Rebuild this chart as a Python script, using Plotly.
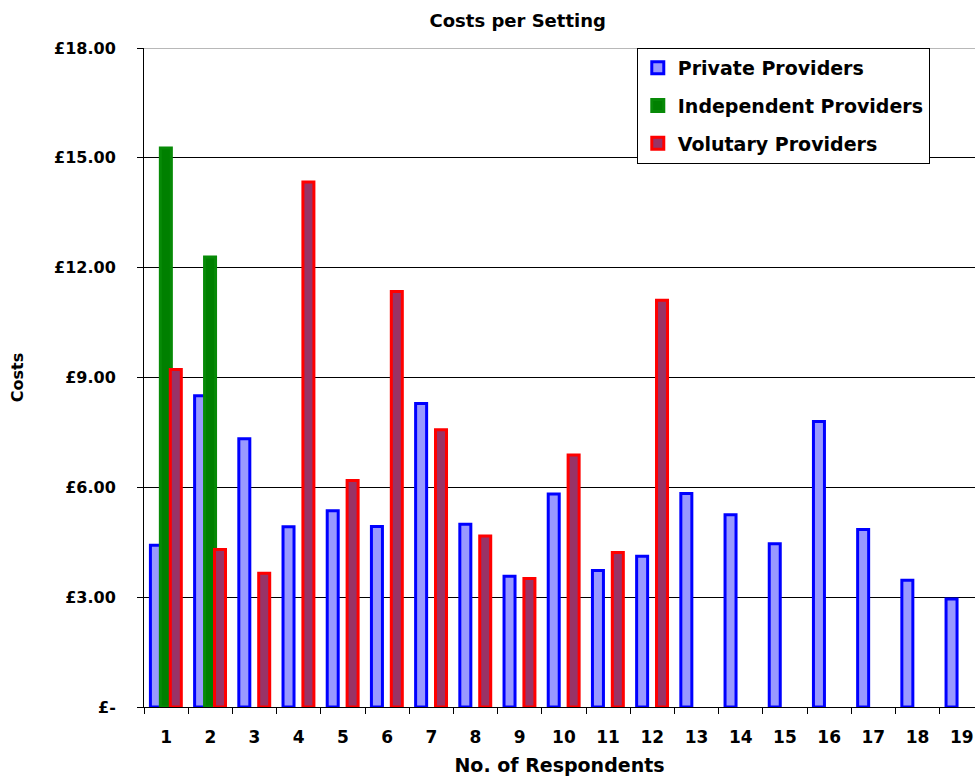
import plotly.graph_objects as go

categories = [str(i) for i in range(1, 20)]
private_vals = [4.42, 8.50, 7.33, 4.92, 5.36, 4.93, 8.29, 4.99, 3.57, 5.82,
                3.73, 4.12, 5.83, 5.25, 4.46, 7.80, 4.85, 3.46, 2.95]
independent_vals = [15.27, 12.29]
voluntary_vals = [9.22, 4.30, 3.65, 14.34, 6.19, 11.35, 7.57, 4.67, 3.51, 6.88,
                  4.22, 11.11]
ytick_vals = [0, 3, 6, 9, 12, 15, 18]
ytick_text = ["£-", "£3.00", "£6.00", "£9.00", "£12.00", "£15.00", "£18.00"]

FONT = "DejaVu Sans"
BW = 0.249

fig = go.Figure()
fig.add_trace(go.Bar(
    x=categories, y=private_vals, name="Private Providers",
    marker=dict(color="#9999FF", line=dict(color="#0000FF", width=3)),
    width=BW, offset=-0.355, legendgroup="a"))
fig.add_trace(go.Bar(
    x=categories[:len(independent_vals)], y=independent_vals,
    name="Independent Providers",
    marker=dict(color="#008000", line=dict(color="#078a07", width=3)),
    width=BW, offset=-0.13, legendgroup="b"))
fig.add_trace(go.Bar(
    x=categories[:len(voluntary_vals)], y=voluntary_vals,
    name="Volutary Providers",
    marker=dict(color="#993366", line=dict(color="#FF0000", width=3)),
    width=BW, offset=0.095, legendgroup="c"))

fig.add_shape(type="line", xref="paper", yref="y", x0=0, x1=1, y0=18, y1=18,
              line=dict(color="#b8b8b8", width=2), layer="above")

fig.update_layout(
    width=975, height=778,
    margin=dict(l=144, r=0, t=48, b=71),
    paper_bgcolor="white", plot_bgcolor="white",
    barmode="overlay",
    font=dict(family=FONT, color="black"),
    title=dict(text="<b>Costs per Setting</b>", x=0.531, xanchor="center",
               y=0.974, yanchor="middle",
               font=dict(family=FONT, size=18, color="black")),
    showlegend=True,
    legend=dict(x=0.593, y=1, xanchor="left", yanchor="top",
                bgcolor="white", bordercolor="black", borderwidth=1,
                font=dict(family=FONT, size=19, color="black",
                          weight="bold"),
                tracegroupgap=10, traceorder="grouped", itemwidth=30,
                itemclick=False),
    xaxis=dict(type="category", range=[-0.5, 18.3], tickson="boundaries",
               ticks="outside", ticklen=6, tickcolor="black",
               showline=True, linecolor="black", linewidth=1,
               showgrid=False, ticklabelstandoff=15, automargin=False,
               tickfont=dict(family=FONT, size=17, weight="bold"),
               title=dict(text="<b>No. of Respondents</b>", standoff=12,
                          font=dict(family=FONT, size=19))),
    yaxis=dict(range=[0, 18], tickvals=ytick_vals, ticktext=ytick_text,
               ticks="outside", ticklen=6, tickcolor="black",
               showline=True, linecolor="black", linewidth=1,
               showgrid=True, gridcolor="black", gridwidth=1,
               zeroline=False, ticklabelstandoff=18, automargin=False,
               tickfont=dict(family=FONT, size=16, weight="bold"),
               title=dict(text="<b>Costs</b>", standoff=26,
                          font=dict(family=FONT, size=16))),
)

fig.write_html(
    "out.html",
    config={"displayModeBar": False},
    post_script="document.body.style.margin='0';"
                "document.body.style.overflow='hidden';",
)
